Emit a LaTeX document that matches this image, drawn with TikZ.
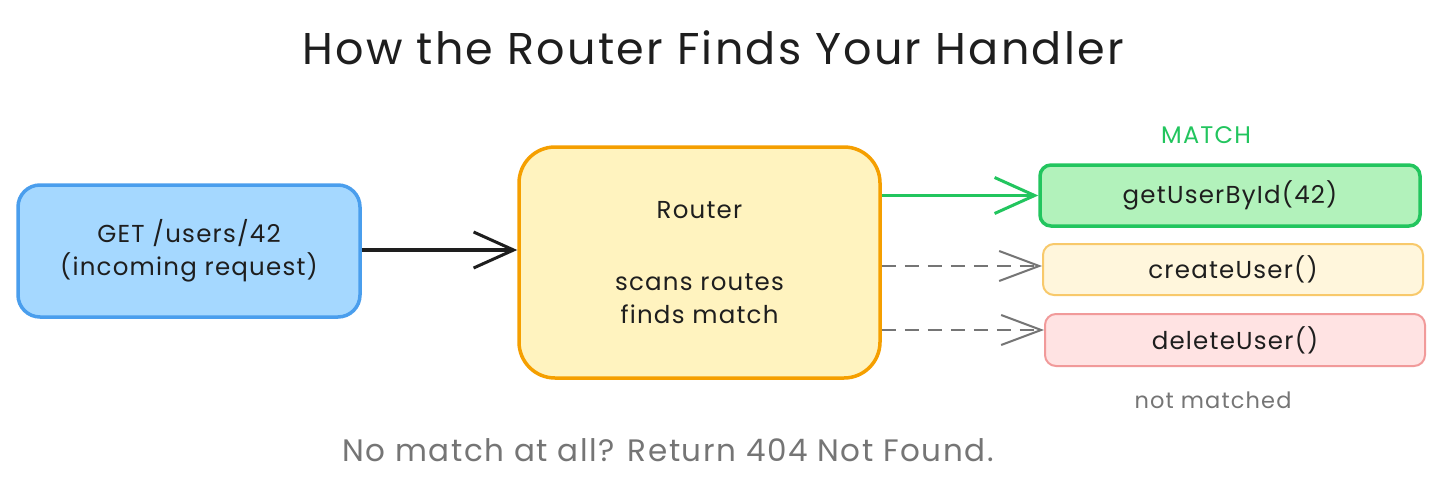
\documentclass[tikz,border=0pt]{standalone}
\usepackage{fontspec}
\setmainfont{Poppins}[LetterSpace=5]
\usetikzlibrary{arrows.meta}
\definecolor{bluefill}{HTML}{A5D8FF}
\definecolor{bluestroke}{HTML}{4A9EED}
\definecolor{routfill}{HTML}{FFF3BF}
\definecolor{routstroke}{HTML}{F59F00}
\definecolor{greenfill}{HTML}{B2F2BB}
\definecolor{greenstroke}{HTML}{22C55E}
\definecolor{yelfill}{HTML}{FFF6DC}
\definecolor{yelstroke}{HTML}{F8C96B}
\definecolor{redfill}{HTML}{FFE3E3}
\definecolor{redstroke}{HTML}{F19A9A}
\definecolor{inkc}{HTML}{1E1E1E}
\definecolor{grayc}{HTML}{757575}
\begin{document}
\begin{tikzpicture}[x=1pt,y=-1pt,
  boxtext/.style={font=\fontsize{24.5}{33}\selectfont, text=inkc, align=center},
  bigbox/.style={draw, line width=3.5pt, rounded corners=22pt, inner sep=0pt},
  smallbox/.style={draw, line width=2pt, rounded corners=11pt, inner sep=0pt},
  barb/.style={-{Straight Barb[length=40pt,width=36pt,line width=3pt]}},
  graybarb/.style={-{Straight Barb[length=40pt,width=30pt,line width=2pt]}, draw=grayc, line width=2pt, dash pattern=on 14pt off 9pt}
]
\useasboundingbox (0,0) rectangle (1445,492);
\fill[white] (0,0) rectangle (1445,492);

\node[font=\fontsize{44.5}{48}\selectfont, text=inkc] (title) at (713,48) {How the Router Finds Your Handler};

\node[bigbox, draw=bluestroke, fill=bluefill, minimum width=342pt, minimum height=132pt, boxtext] (req) at (189,251) {GET /users/42\\(incoming request)};

\node[bigbox, draw=routstroke, fill=routfill, rounded corners=36pt, minimum width=361pt, minimum height=231pt, boxtext] (router) at (699.5,262.5) {Router\\[39pt]scans routes\\finds match};

\node[smallbox, draw=greenstroke, fill=greenfill, line width=3.5pt, minimum width=380pt, minimum height=61pt, boxtext] (get) at (1230,195.5) {getUserById(42)};
\node[smallbox, draw=yelstroke, fill=yelfill, minimum width=380pt, minimum height=51pt, boxtext] (create) at (1233,269.5) {createUser()};
\node[smallbox, draw=redstroke, fill=redfill, minimum width=380pt, minimum height=52pt, boxtext] (delete) at (1235,340) {deleteUser()};

\node[font=\fontsize{24}{26}\selectfont\mdseries, text=greenstroke] (match) at (1206,135) {MATCH};
\node[font=\fontsize{22.5}{24}\selectfont, text=grayc] (notm) at (1213,400) {not matched};
\node[font=\fontsize{31}{34}\selectfont, text=grayc] (foot) at (668,450) {No match at all? Return 404 Not Found.};

\draw[barb, draw=inkc, line width=3.5pt] (req.east |- 0,250) -- (router.west |- 0,250);
\draw[barb, draw=greenstroke, line width=3pt] (router.east |- get.west) -- (get.west);
\draw[graybarb] (router.east |- 0,266) -- (create.west |- 0,266);
\draw[graybarb] (router.east |- 0,330) -- (delete.west |- 0,330);
\end{tikzpicture}
\end{document}
